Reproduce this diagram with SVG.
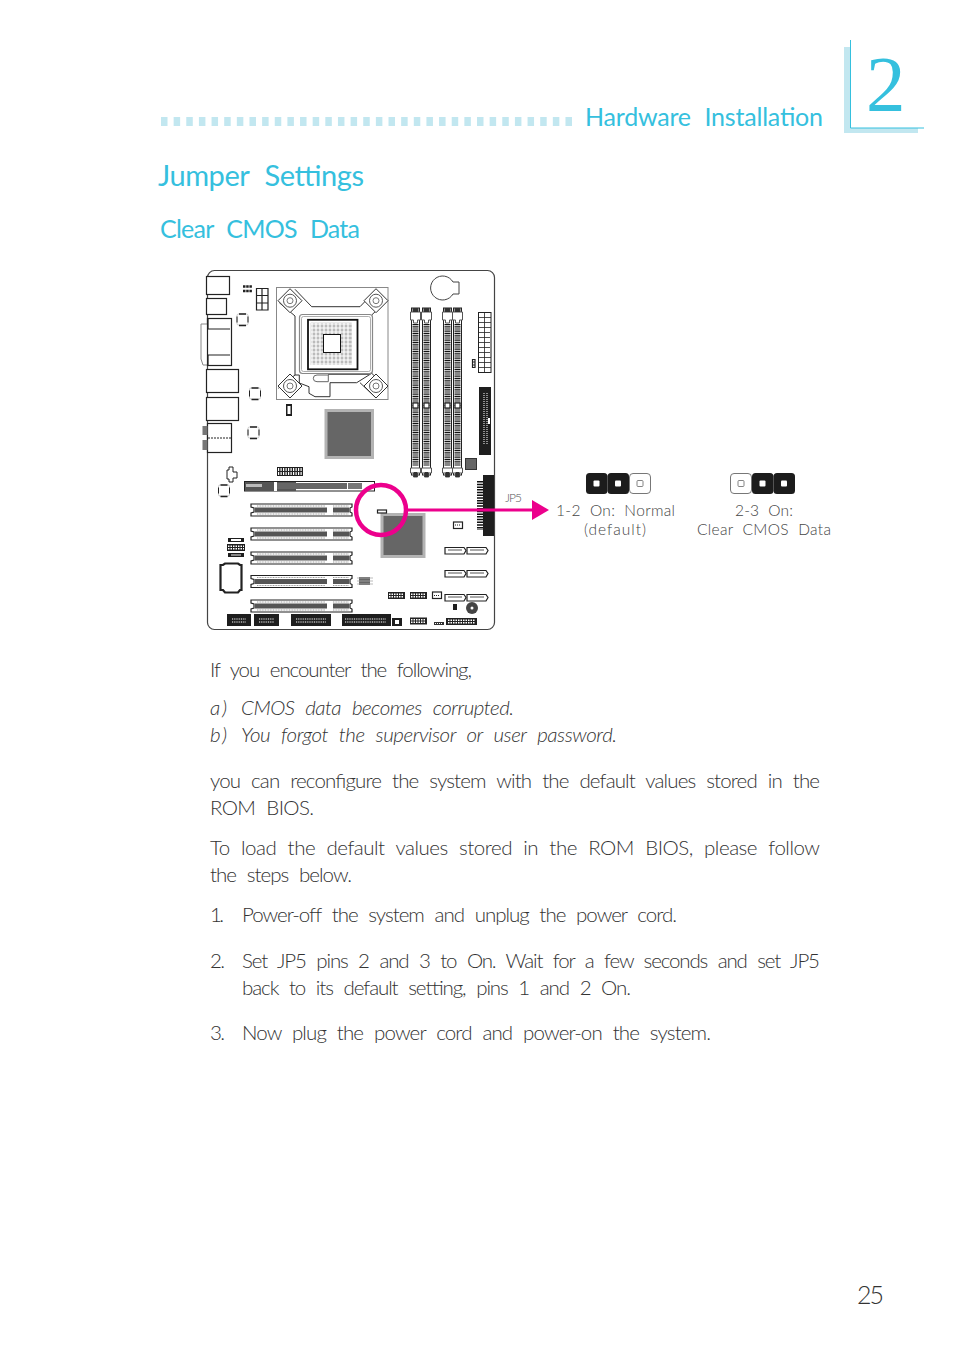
<svg xmlns="http://www.w3.org/2000/svg" width="954" height="1351" viewBox="0 0 954 1351">
<style>
text{font-family:"Lato","Open Sans","Liberation Sans",sans-serif;font-weight:300;word-spacing:.3em}
.h{fill:#35c0de;font-weight:400}
.b{fill:#333;font-size:20.500px}
.i{font-style:italic}
.c{fill:#444;font-size:15.500px}
.o{fill:#fff;stroke:#222;stroke-width:1.2}
.n{fill:none;stroke:#222;stroke-width:1.2}
.g{fill:none;stroke:#666;stroke-width:1}
.k{fill:#1e1e1e}
.lb{fill:#c2e7f0}
.m{fill:#ec008c}
</style>
<defs>
<g id="slot">
<path d="M0 0H101V3L99 4V8L101 9V12H0V9L3 8V4L0 3Z" class="o"/>
<rect x="4" y="3.500" width="72" height="5" fill="#555"/>
<rect x="82" y="3.500" width="16" height="5" fill="#555"/>
<path d="M6 2H74M82 2H98M6 10H74M82 10H98" stroke="#999" stroke-width="1" stroke-dasharray="1 .6"/>
</g>
<g id="dimm">
<rect x="0" y="0" width="8" height="167" fill="#fff" stroke="#222" stroke-width="1"/>
<path d="M4 16V158" stroke="#111" stroke-width="6" stroke-dasharray="1 .8"/>
<rect x="1.500" y="95" width="5" height="5" class="o" stroke-width=".8"/>
<path d="M-1 4H9V12H6V15H2V12H-1Z" fill="#fff" stroke="#555" stroke-width="1"/>
<rect x="1" y="0" width="6" height="4" fill="#333"/>
<path d="M-1 160H9V165H6V169H2V165H-1Z" fill="#fff" stroke="#555" stroke-width="1"/>
<rect x="2" y="164" width="4" height="5" fill="#333"/>
</g>
<g id="sata"><path d="M0 .5H19L21 3.500L19 7H0Z" class="o"/><path d="M3 3H17" stroke="#555" stroke-width="1"/></g>
<g id="header"><rect width="17" height="7" fill="#222"/><path d="M1 2.200H16M1 4.800H16" stroke="#fff" stroke-width="1.500" stroke-dasharray="1.500 1"/></g>
<g id="cap"><rect width="11" height="11" rx="1.500" fill="#fff" stroke="#bbb" stroke-width=".8"/><path d="M2 0H9M2 11.500H9" stroke="#222" stroke-width="1.400"/><path d="M0 2.500V8.500M11 2.500V8.500" stroke="#222" stroke-width="1"/></g>
<g id="mount"><path d="M0 -12L12 0L0 12L-12 0Z" fill="#fff" stroke="#333" stroke-width="1"/><circle r="6.500" fill="#fff" stroke="#555" stroke-width="1"/><circle r="3" fill="#fff" stroke="#777" stroke-width="1"/></g>
<g id="pinB"><rect width="21.500" height="21" rx="3.500" fill="#1c1c1c"/><rect x="7.500" y="7.500" width="6" height="6" rx="1" fill="#fff"/></g>
<g id="pinW"><rect x=".5" y=".5" width="21" height="20" rx="3.500" fill="#fff" stroke="#777" stroke-width="1"/><rect x="8" y="7.500" width="6" height="6" rx="1" fill="#fff" stroke="#666" stroke-width=".8"/></g>
</defs>

<g id="page-header">
<path d="M161 121.500H574" stroke="#c2e7f0" stroke-width="9" stroke-dasharray="6.500 6.140"/>
<text class="h" x="585" y="126" font-size="25" textLength="238">Hardware Installation</text>
<rect class="lb" x="844" y="47" width="6" height="86"/>
<rect class="lb" x="844" y="128" width="74" height="5"/>
<path d="M850.500 40V128H924" fill="none" stroke="#35c0de" stroke-width="1"/>
<text x="866" y="110" class="h" style="font-family:'Liberation Serif',serif;font-weight:400" font-size="79">2</text>
<text class="h" x="158" y="186" font-size="29" textLength="206">Jumper Settings</text>
<text class="h" x="160" y="238" font-size="25" textLength="200">Clear CMOS Data</text>
</g>

<g id="board">
<rect x="207.500" y="270.500" width="287" height="359" rx="7" fill="#fff" stroke="#444" stroke-width="1.200"/>
<g id="io-panel">
<rect class="o" x="206.500" y="276.500" width="23" height="18"/>
<rect class="o" x="206.500" y="298.500" width="20" height="16"/>
<path d="M207 324H201V359L203 365H207" fill="#fff" stroke="#888"/>
<rect class="o" x="207.500" y="318.500" width="24" height="47"/>
<path d="M208 319V329H230M208 365V355H230" class="n"/>
<rect class="o" x="206.500" y="369.500" width="32" height="23"/>
<rect class="o" x="206.500" y="397.500" width="32" height="23"/>
<rect class="o" x="207.500" y="423.500" width="24" height="29"/>
<path d="M208 438H231" stroke="#222" stroke-dasharray="2 1"/>
<rect x="202.500" y="426" width="5" height="9" fill="#777"/>
<rect x="202.500" y="440" width="5" height="10" fill="#777"/>
</g>
<g id="caps">
<use href="#cap" x="237" y="314"/>
<use href="#cap" x="249.500" y="388"/>
<use href="#cap" x="248" y="427"/>
<use href="#cap" x="218.500" y="485"/>
</g>
<g id="power-headers">
<path d="M243 286.500H252M243 291H252" stroke="#222" stroke-width="2.500" stroke-dasharray="2.500 .7"/>
<path d="M256.500 288.500H268V310H256.500ZM256.500 295.500H268M256.500 303H268M262 288.500V310" class="n" stroke-width="1"/>
<rect class="k" x="286" y="404" width="6" height="12"/>
<rect x="287.500" y="406" width="3" height="8" fill="#fff"/>
</g>
<g id="cpu-socket">
<rect x="276.500" y="287.500" width="111.500" height="112" fill="#fff" stroke="#888"/>
<path d="M295 289.300L311.700 306.700H360L376 290M386.700 300.700L371.700 315V373.300L387.300 388M279.300 302.700L295 316V375L278.300 388.300M295 375H299.300V383L309 386.700V393.300L315 396.700H330V382.700H356.700L371.700 373.300M360 382.700L376 398" fill="none" stroke="#333"/>
<rect x="299.500" y="314.500" width="73" height="59" rx="3" fill="#fff" stroke="#888" stroke-width="1.200"/>
<rect x="301.500" y="316.500" width="69" height="55" rx="2" fill="#fff" stroke="#999" stroke-width=".8"/>
<rect x="308" y="319.800" width="49.500" height="49.500" fill="#fff" stroke="#111" stroke-width="1.800"/>
<rect x="310.700" y="322.700" width="41" height="42.300" fill="#bbb"/>
<path d="M312 323V365M316 323V365M320 323V365M324 323V365M328 323V365M332 323V365M336 323V365M340 323V365M344 323V365M348 323V365M311 324H352M311 328H352M311 332H352M311 336H352M311 340H352M311 344H352M311 348H352M311 352H352M311 356H352M311 360H352M311 364H352" stroke="#fff" stroke-width="1.200" fill="none"/>
<rect x="323.500" y="334.500" width="17" height="18" fill="#fff" stroke="#111" stroke-width="1"/>
<path d="M317 375H328.300V381.700H317Q313.300 381.700 313.300 378.300Q313.300 375 317 375ZM328 374.500H370" class="g"/>
<use href="#mount" x="290" y="300.700"/><use href="#mount" x="376" y="300.700"/><use href="#mount" x="290" y="386"/><use href="#mount" x="376" y="386"/>
</g>
<g id="northbridge"><rect x="326" y="410.500" width="46.500" height="47" fill="#666" stroke="#b3b3b3" stroke-width="3"/></g>
<g id="dimms">
<use href="#dimm" x="411.500" y="308"/><use href="#dimm" x="422.500" y="308"/><use href="#dimm" x="443.500" y="308"/><use href="#dimm" x="453.500" y="308"/>
</g>
<g id="battery">
<path d="M453 282A12 12 0 1 0 453 294H459V282Z" fill="#fff" stroke="#444"/>
</g>
<g id="atx-power">
<rect x="478.500" y="312.500" width="12.500" height="60" fill="#fff" stroke="#222"/>
<path d="M478 317.500H491M478 322.500H491M478 327.500H491M478 332.500H491M478 337.500H491M478 342.500H491M478 347.500H491M478 352.500H491M478 357.500H491M478 362.500H491M478 367.500H491M484.500 312V372" stroke="#222" stroke-width=".8"/>
<rect x="490" y="330" width="2" height="27" fill="#888"/>
<path d="M472.500 359.500H475V367.500H472.500ZM472.500 362H475M472.500 365H475" class="n" stroke-width=".8"/>
</g>
<g id="ide"><rect class="k" x="479" y="387" width="12" height="68"/><path d="M484 393V445" stroke="#fff" stroke-width="1" stroke-dasharray="1 1"/><path d="M487 393V445" stroke="#fff" stroke-width="1" stroke-dasharray="1 1"/><rect x="488" y="418" width="2" height="6" fill="#fff"/></g>
<rect id="fan-chip" x="465.500" y="458.500" width="11" height="11" fill="#666" stroke="#333"/>
<g id="pcie">
<rect x="244.500" y="481.500" width="130" height="9.500" fill="#fff" stroke="#222"/>
<rect x="245" y="482" width="51" height="9" fill="#555"/><rect x="277" y="483" width="70" height="6" fill="#666"/><rect x="348" y="483" width="14" height="6" fill="#777"/>
<rect x="246" y="484" width="16" height="3" fill="#bbb"/><rect x="274" y="482" width="3" height="9" fill="#fff"/>
<rect x="362" y="482" width="12" height="8" fill="#fff"/>
</g>
<g id="pci-slots">
<use href="#slot" x="251" y="504"/><use href="#slot" x="251" y="528"/><use href="#slot" x="251" y="552"/><use href="#slot" x="251" y="575.500"/><use href="#slot" x="251" y="600"/>
</g>
<g id="small-parts">
<rect class="k" x="277" y="467" width="26" height="9"/><path d="M278 471.500H302" stroke="#fff" stroke-width="7" stroke-dasharray="1.200 1.300"/><path d="M277 471.500H303" stroke="#222" stroke-width="1"/>
<path d="M229 467H233V472H237V478H233V482H229V479H227V470H229Z" fill="#fff" stroke="#222" stroke-width="1"/>
<rect class="k" x="228" y="538" width="16" height="4"/><rect x="231" y="539" width="10" height="2" fill="#fff"/>
<rect class="k" x="227" y="544" width="18" height="7"/><path d="M228 546.200H244M228 548.800H244" stroke="#fff" stroke-width="1.500" stroke-dasharray="1.500 1"/>
<rect class="k" x="228" y="553" width="16" height="4"/><rect x="231" y="554" width="10" height="2" fill="#888"/>
<path d="M225 563.500H238L240 565H241.500V590H240L238 592.500H225L223 590H220.500V565H223Z" fill="#fff" stroke="#222" stroke-width="2.200"/>
<rect x="359" y="577" width="11" height="8" fill="#666"/><path d="M357 578H373M357 581H373M357 584H373" stroke="#aaa" stroke-width=".8"/>
<rect class="o" x="453.500" y="522" width="9" height="6.500"/><path d="M455 525H461" stroke="#222" stroke-dasharray="1 1"/>
<use href="#header" x="388" y="592"/><use href="#header" x="410" y="592"/><use href="#header" x="410" y="617.500"/>
<rect class="o" x="432.500" y="592" width="9" height="6.500"/><path d="M434 595.500H440" stroke="#222" stroke-dasharray="1 1"/>
<rect class="k" x="453" y="604" width="4" height="6"/>
<circle cx="472" cy="608" r="6" fill="#444"/><circle cx="472" cy="608" r="1.500" fill="#fff"/>
<rect x="434" y="622" width="10" height="3" fill="#333"/><path d="M435 623.500H443" stroke="#fff" stroke-dasharray="1 1"/>
</g>
<g id="sata-ports">
<use href="#sata" x="445" y="547"/><use href="#sata" x="467" y="547"/>
<use href="#sata" x="445" y="570"/><use href="#sata" x="467" y="570"/>
<use href="#sata" x="445" y="594"/><use href="#sata" x="467" y="594"/>
</g>
<g id="bottom-headers">
<rect class="k" x="227" y="614" width="24" height="12"/><path d="M232 619H246M232 622H246" stroke="#fff" stroke-dasharray="1 .8"/>
<rect class="k" x="254" y="614" width="25" height="12"/><path d="M259 619H274M259 622H274" stroke="#fff" stroke-dasharray="1 .8"/>
<rect class="k" x="291" y="614" width="40" height="12"/><path d="M296 619H326M296 622H326" stroke="#fff" stroke-dasharray="1 .8"/>
<rect class="k" x="342" y="614" width="49" height="12"/><path d="M345 619H386M345 622H386" stroke="#fff" stroke-dasharray="1 .8"/>
<rect class="k" x="392" y="618" width="10" height="8"/><rect x="395" y="620" width="4" height="4" fill="#fff"/>
<rect x="446" y="618" width="31" height="7" fill="#222"/><path d="M448 620.200H475M448 622.800H475" stroke="#fff" stroke-width="1.500" stroke-dasharray="1.500 1"/>
</g>
<g id="rear-connector">
<rect class="k" x="483" y="475" width="11" height="61"/>
<path d="M480 481V530" stroke="#111" stroke-width="6" stroke-dasharray="1.500 1.200"/>
</g>
<g id="southbridge"><rect x="382" y="514.500" width="42" height="42" fill="#666" stroke="#b3b3b3" stroke-width="3"/></g>
<g id="JP5"><rect class="o" x="377.500" y="510" width="9" height="3" stroke-width="1"/></g>
</g>

<g id="connectors">
<circle cx="381" cy="510" r="25" fill="none" stroke="#ec008c" stroke-width="4.500"/>
<path d="M406 510H534" stroke="#ec008c" stroke-width="3"/>
<path class="m" d="M532 500L549 510L532 520Z"/>
</g>

<text id="jp5-label" x="505" y="502" font-size="12" fill="#555" textLength="17">JP5</text>
<g id="jumper-normal">
<use href="#pinB" x="586" y="473"/><use href="#pinB" x="607.500" y="473"/><use href="#pinW" x="629" y="473"/>
<text class="c" x="556" y="516" textLength="119">1-2 On: Normal</text>
<text class="c" x="584" y="534.500" textLength="62">(default)</text>
</g>
<g id="jumper-clear">
<use href="#pinW" x="730" y="473"/><use href="#pinB" x="752" y="473"/><use href="#pinB" x="773.500" y="473"/>
<text class="c" x="735" y="516" textLength="58">2-3 On:</text>
<text class="c" x="697" y="534.500" textLength="134">Clear CMOS Data</text>
</g>

<g id="body">
<text class="b" x="210" y="677" textLength="262">If you encounter the following,</text>
<text class="b i" x="210" y="715" textLength="17">a)</text>
<text class="b i" x="241" y="715" textLength="273">CMOS data becomes corrupted.</text>
<text class="b i" x="210" y="742" textLength="17">b)</text>
<text class="b i" x="241" y="742" textLength="376">You forgot the supervisor or user password.</text>
<text class="b" x="210" y="788" textLength="610">you can reconfigure the system with the default values stored in the</text>
<text class="b" x="210" y="815" textLength="104">ROM BIOS.</text>
<text class="b" x="210" y="855" textLength="610">To load the default values stored in the ROM BIOS, please follow</text>
<text class="b" x="210" y="882" textLength="142">the steps below.</text>
<text class="b" x="210" y="922" textLength="14">1.</text>
<text class="b" x="242" y="922" textLength="435">Power-off the system and unplug the power cord.</text>
<text class="b" x="210" y="968" textLength="15">2.</text>
<text class="b" x="242" y="968" textLength="578">Set JP5 pins 2 and 3 to On. Wait for a few seconds and set JP5</text>
<text class="b" x="242" y="995" textLength="389">back to its default setting, pins 1 and 2 On.</text>
<text class="b" x="210" y="1040" textLength="15">3.</text>
<text class="b" x="242" y="1040" textLength="469">Now plug the power cord and power-on the system.</text>
</g>
<text id="page-number" x="857" y="1304" font-size="25" fill="#333" textLength="27">25</text>
</svg>
